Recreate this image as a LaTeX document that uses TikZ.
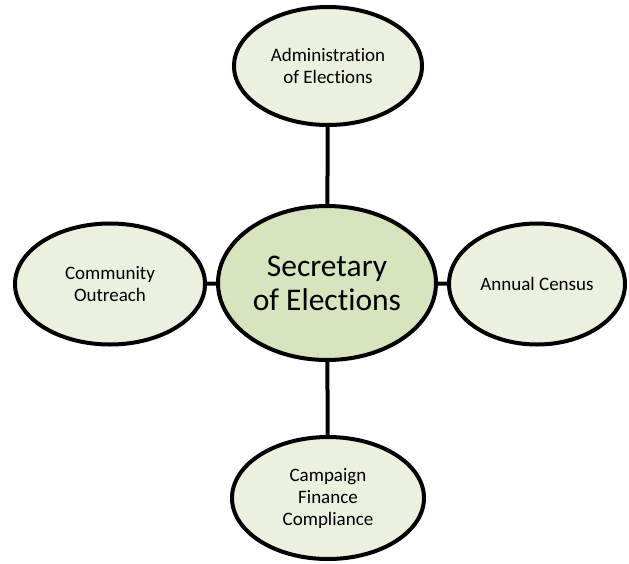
\documentclass[tikz,border=0pt]{standalone}
\usepackage{fontspec}
\setmainfont[Ligatures=NoCommon]{Carlito}
\usetikzlibrary{shapes.geometric}
\definecolor{pale}{HTML}{EBF1DE}
\definecolor{olive}{HTML}{D7E4BD}
\tikzset{
  office/.style={ellipse, draw=black, line width=4pt, fill=pale, inner sep=0pt,
    align=center, font=\fontsize{19}{22}\selectfont},
  head/.style={office, fill=olive, font=\fontsize{31.5}{34}\selectfont},
  link/.style={line width=4pt}
}
\begin{document}
	\begin{tikzpicture}[x=1pt,y=-1pt]
		\useasboundingbox (0,0) rectangle (629,563);
		\node[head, minimum width=218pt, minimum height=154pt] (sec) at (327,283) {Secretary\\of Elections};
		\node[office, minimum width=188pt, minimum height=118pt] (admin) at (328,66) {Administration\\of Elections};
		\node[office, minimum width=190pt, minimum height=121pt] (outreach) at (110,284) {Community\\Outreach};
		\node[office, minimum width=176pt, minimum height=121pt] (census) at (537,284) {Annual Census};
		\node[office, minimum width=192pt, minimum height=122pt] (finance) at (328,498) {Campaign\\Finance\\Compliance};
		\draw[link] (sec) -- (admin);
		\draw[link] (sec) -- (outreach);
		\draw[link] (sec) -- (census);
		\draw[link] (sec) -- (finance);
	\end{tikzpicture}
\end{document}
